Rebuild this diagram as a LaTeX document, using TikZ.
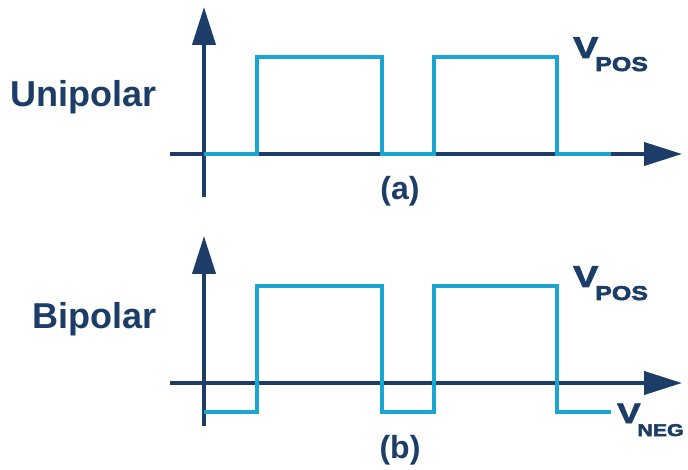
\documentclass[tikz,border=0pt]{standalone}
\usepackage{fontspec}
\setmainfont{Liberation Sans}
\newfontfamily\wfvfont{Liberation Sans}[BoldFeatures={FakeStretch=1.25, FakeBold=3}]
\usetikzlibrary{arrows.meta}
\definecolor{wfnavy}{RGB}{27,61,104}
\definecolor{wfcyan}{RGB}{26,166,208}
\newcommand{\wflevel}[2][20]{V\kern-3pt\raisebox{-13pt}{\fontsize{#1}{#1}\selectfont #2}}
\tikzset{
  wfaxis/.style={draw=wfnavy, line width=4pt,
                 -{Triangle[length=38pt, width=23pt]}},
  wfsignal/.style={draw=wfcyan, line width=3.2pt, line join=miter},
  wfname/.style={anchor=base east, inner sep=0pt, text=wfnavy,
                 font=\bfseries\fontsize{36}{36}\selectfont},
  wfcaption/.style={anchor=base, inner sep=0pt, text=wfnavy,
                    font=\bfseries\fontsize{32}{32}\selectfont},
  wfvlabel/.style={anchor=base west, inner sep=0pt, text=wfnavy,
                   font=\wfvfont\bfseries\fontsize{30}{30}\selectfont},
  wfvsmall/.style={wfvlabel, font=\wfvfont\bfseries\fontsize{28}{28}\selectfont}
}

\begin{document}
\begin{tikzpicture}[x=1pt, y=-1pt]
  \useasboundingbox (0,0) rectangle (688,470);
  \foreach \pn/\yo/\lo/\nm/\ny in {a/0/0/Unipolar/107, b/229/29/Bipolar/328} {
    \coordinate (yb\pn) at (204,197+\yo);
    \coordinate (yt\pn) at (204,7+\yo);
    \coordinate (xl\pn) at (170,154+\yo);
    \coordinate (xr\pn) at (682,154+\yo);
    \draw[wfaxis] (yb\pn) -- (yt\pn);
    \draw[wfaxis] (xl\pn) -- (xr\pn);
    \coordinate (s\pn) at (204,154+\yo+\lo);
    \coordinate (e\pn) at (611,154+\yo+\lo);
    \draw[wfsignal] (s\pn) -- ++(53,0) -- ++(0,-97-\lo) -- ++(125,0)
      -- ++(0,97+\lo) -- ++(52,0) -- ++(0,-97-\lo) -- ++(123,0)
      -- ++(0,97+\lo) -- (e\pn);
    \node[wfname] (name\pn) at (157,\ny) {\nm};
    \node[wfcaption] (cap\pn) at (400,200+\yo+\lo) {(\pn)};
    \node[wfvlabel] (pos\pn) at (573,58+\yo) {\wflevel{POS}};
  }
  \node[wfvsmall] (negb) at (617,423) {\wflevel[17]{NEG}};
\end{tikzpicture}
\end{document}
